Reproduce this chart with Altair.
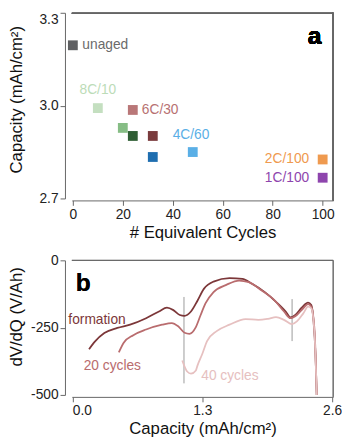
import altair as alt
import pandas as pd

FONT = "Liberation Sans"

# ---------------- panel a data ----------------
pt_ids = ["unaged", "p8C10", "p20", "p6C30", "p24", "p32a", "p32b", "p4C60", "p2C100", "p1C100"]
pt_cycles = [0, 10, 20, 24, 24, 32, 32, 48, 100, 100]
pt_capacity = [3.195, 2.992, 2.928, 2.986, 2.902, 2.902, 2.834, 2.850, 2.826, 2.767]
pt_colors = ["#5f6062", "#c4dfc0", "#86bd85", "#b97778", "#2f5e34",
             "#7a3b3d", "#1f6eb0", "#5aafe6", "#ef9a4f", "#8e45ad"]

lab_text = ["unaged", "8C/10", "6C/30", "4C/60", "2C/100", "1C/100"]
lab_x = [3.8, 10, 27.6, 47.3, 94.6, 94.6]
lab_y = [3.195, 3.049, 2.986, 2.904, 2.828, 2.767]
lab_align = ["left", "center", "left", "center", "right", "right"]
lab_colors = ["#6b6b6b", "#bcdcb8", "#b77172", "#5aafe6", "#ef9a4f", "#8e45ad"]

# ---------------- panel b data ----------------
form_x = [0.167, 0.225, 0.32, 0.45, 0.578, 0.738, 0.867, 0.947, 1.011, 1.075, 1.123, 1.187,
          1.252, 1.316, 1.413, 1.573, 1.701, 1.798, 1.926, 2.038, 2.135, 2.183, 2.231, 2.295,
          2.359, 2.391, 2.414, 2.433, 2.446]
form_y = [-330, -302, -270, -251, -239, -215, -190, -176, -185, -203, -206, -190,
          -150, -106, -79, -66, -69, -87, -118, -154, -190, -212, -203, -176,
          -157, -166, -227, -348, -505]

c20_x = [0.465, 0.514, 0.61, 0.738, 0.898, 0.995, 1.059, 1.123, 1.171, 1.236, 1.284, 1.332,
         1.413, 1.541, 1.669, 1.765, 1.894, 2.022, 2.118, 2.183, 2.247, 2.311, 2.359, 2.391,
         2.424, 2.446]
c20_y = [-342, -306, -278, -257, -239, -233, -245, -269, -273, -248, -203, -160,
         -118, -91, -75, -81, -112, -148, -190, -215, -203, -178, -163, -172,
         -263, -505]

c40_x = [1.10, 1.149, 1.187, 1.236, 1.252, 1.30, 1.348, 1.444, 1.573, 1.733, 1.861, 1.958,
         2.038, 2.118, 2.199, 2.247, 2.311, 2.359, 2.391, 2.424, 2.446]
c40_y = [-372, -413, -421, -409, -391, -348, -300, -263, -239, -218, -221, -217,
         -211, -221, -237, -227, -197, -172, -178, -276, -505]

series_names = ["formation", "20 cycles", "40 cycles"]
series_colors = ["#7c3739", "#b96c6e", "#e6c0c0"]

vline_x = [1.117, 2.199]
vline_top = [-136, -144]
vline_bot = [-457, -300]

blab_text = ["formation", "20 cycles", "40 cycles"]
blab_x = [-0.04, 0.113, 1.29]
blab_y = [-222, -393, -429]
blab_colors = ["#7c3739", "#b96c6e", "#e6c0c0"]

# ---------------- tables ----------------
pts = pd.DataFrame({"id": pt_ids, "x": pt_cycles, "y": pt_capacity})
labs = pd.DataFrame({"t": lab_text, "x": lab_x, "y": lab_y, "al": lab_align, "c": lab_colors})

rows = []
for name, xs, ys in [("formation", form_x, form_y), ("20 cycles", c20_x, c20_y), ("40 cycles", c40_x, c40_y)]:
    for a, b in zip(xs, ys):
        rows.append({"s": name, "x": a, "y": b})
curves = pd.DataFrame(rows)
vlines = pd.DataFrame({"x": vline_x, "y": vline_top, "y2": vline_bot})
blabs = pd.DataFrame({"t": blab_text, "x": blab_x, "y": blab_y, "c": blab_colors})

W = 266
H1 = 189
H2 = 137
FRAME = "#666666"

# ---------------- panel a ----------------
xa = alt.X("x:Q", scale=alt.Scale(domain=[-0.4, 104.2], nice=False, zero=False),
           axis=alt.Axis(values=[0, 20, 40, 60, 80, 100], title="# Equivalent Cycles",
                         offset=2, titlePadding=4))
ya = alt.Y("y:Q", scale=alt.Scale(domain=[2.7, 3.3], nice=False, zero=False),
           axis=alt.Axis(values=[2.7, 3.0, 3.3], format=".1f", title="Capacity (mAh/cm²)",
                         offset=7, titleX=-40, titleY=88,
                         labelBaseline={"condition": {"test": "datum.value >= 3.29", "value": "top"},
                                        "value": "middle"}))

pts_layer = alt.Chart(pts).mark_square(size=100, opacity=1).encode(
    x=xa, y=ya,
    color=alt.Color("id:N", scale=alt.Scale(domain=pt_ids, range=pt_colors), legend=None),
)

def text_layer(df, align, xenc, yenc):
    return alt.Chart(df).transform_filter(alt.datum.al == align).mark_text(
        align=align, baseline="middle", font=FONT, fontSize=14
    ).encode(x=xenc, y=yenc, text="t:N", fill=alt.Fill("c:N", scale=None))

top_rule = alt.Chart(pts).mark_rule(color=FRAME, strokeWidth=1).encode(
    x=alt.value(0), x2=alt.value(W), y=alt.value(0.5))
right_rule = alt.Chart(pts).mark_rule(color=FRAME, strokeWidth=1).encode(
    x=alt.value(W), y=alt.value(0), y2=alt.value(H1 + 2))
a_lab = alt.Chart(pts).mark_text(text="a", font=FONT, fontSize=25, fontWeight="bold",
                                 align="center", baseline="middle", color="#000").encode(
    x=alt.value(247), y=alt.value(24))

panel_a = alt.layer(
    pts_layer,
    text_layer(labs, "left", "x:Q", "y:Q"),
    text_layer(labs, "center", "x:Q", "y:Q"),
    text_layer(labs, "right", "x:Q", "y:Q"),
    top_rule, right_rule, a_lab,
).properties(width=W, height=H1)

# ---------------- panel b ----------------
xb = alt.X("x:Q", scale=alt.Scale(domain=[-0.005, 2.61], nice=False, zero=False),
           axis=alt.Axis(values=[0, 1.3, 2.6], format=".1f", title="Capacity (mAh/cm²)",
                         offset=2, titlePadding=3))
yb = alt.Y("y:Q", scale=alt.Scale(domain=[-500, 0], nice=False, zero=False),
           axis=alt.Axis(values=[-500, -250, 0], labelExpr="'' + datum.value",
                         title="dV/dQ (V/Ah)", offset=7, titleX=-40, titleY=57))

lines = alt.Chart(curves).mark_line(interpolate="monotone", strokeWidth=1.8, clip=True).encode(
    x=xb, y=yb,
    stroke=alt.Stroke("s:N", scale=alt.Scale(domain=series_names, range=series_colors), legend=None),
    order="x:Q",
)
vl = alt.Chart(vlines).mark_rule(color="#9a9a9a", strokeWidth=1).encode(
    x="x:Q", y="y:Q", y2="y2:Q")
btext = alt.Chart(blabs).mark_text(align="left", baseline="middle", font=FONT, fontSize=14).encode(
    x="x:Q", y="y:Q", text="t:N", fill=alt.Fill("c:N", scale=None))
top_rule_b = alt.Chart(vlines).mark_rule(color=FRAME, strokeWidth=1).encode(
    x=alt.value(0), x2=alt.value(W), y=alt.value(0))
right_rule_b = alt.Chart(vlines).mark_rule(color=FRAME, strokeWidth=1).encode(
    x=alt.value(W), y=alt.value(0), y2=alt.value(H2 + 2))
b_lab = alt.Chart(vlines).mark_text(text="b", font=FONT, fontSize=25, fontWeight="bold",
                                    align="left", baseline="middle", color="#000").encode(
    x=alt.value(4), y=alt.value(23))

panel_b = alt.layer(vl, lines, btext, top_rule_b, right_rule_b, b_lab).properties(width=W, height=H2)

chart = alt.vconcat(panel_a, panel_b, spacing=13).resolve_scale(
    color="independent", stroke="independent", fill="independent"
).properties(padding=0).configure_axis(
    labelFont=FONT, titleFont=FONT, labelFontSize=14, titleFontSize=17,
    titleFontWeight="normal", labelColor="#222222", titleColor="#111111",
    domainColor=FRAME, tickColor=FRAME, tickSize=5, labelPadding=2, grid=False,
).configure_view(strokeWidth=0)

chart.save("out.html", embed_options={"renderer": "svg", "actions": False})
